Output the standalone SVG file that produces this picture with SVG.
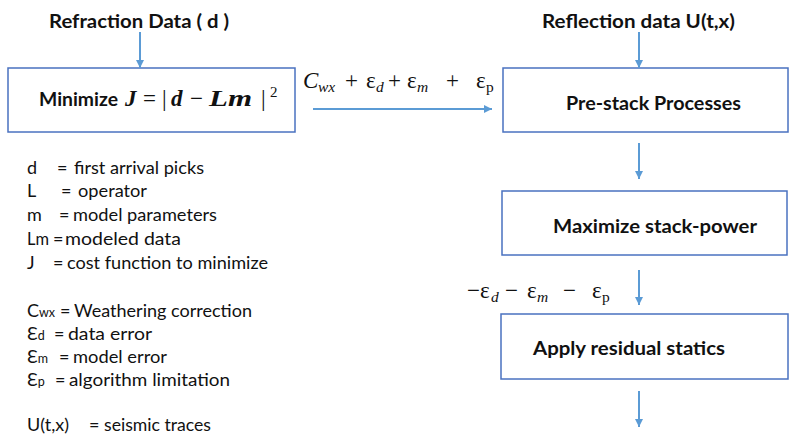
<svg xmlns="http://www.w3.org/2000/svg" width="793" height="438" viewBox="0 0 793 438">
<defs>
<marker id="ah" viewBox="0 0 10 10" refX="10" refY="5" markerWidth="4.5" markerHeight="4" markerUnits="strokeWidth" orient="auto"><path d="M0,0 L10,5 L0,10 z" fill="#5b9bd5"/></marker>
</defs>
<style>
.box{fill:#fff;stroke:#4a72c0;stroke-width:1.5}
.conn{stroke:#5b9bd5;stroke-width:2;fill:none;marker-end:url(#ah)}
.hd{font-family:Lato,"Liberation Sans",Arial,sans-serif;font-weight:bold;font-size:19.5px;fill:#111}
.lg{font-family:Lato,"Liberation Sans",Arial,sans-serif;font-size:18px;fill:#111}
.sm{font-size:12.5px}
.mt{font-family:"Liberation Serif","Times New Roman",serif;font-size:23px;fill:#111}
.it{font-style:italic}
.bi{font-style:italic;font-weight:bold}
.sub{font-size:15.5px}
</style>
<rect width="793" height="438" fill="#fff"/>

<g id="refraction-data">
<text class="hd" x="49" y="28" textLength="180" lengthAdjust="spacingAndGlyphs">Refraction Data ( d )</text>
</g>
<g id="reflection-data">
<text class="hd" x="542" y="28" textLength="193" lengthAdjust="spacingAndGlyphs">Reflection data U(t,x)</text>
</g>

<g id="minimize">
<rect class="box" x="8" y="68" width="287" height="64"/>
<text class="hd" x="39" y="106" textLength="79" lengthAdjust="spacingAndGlyphs">Minimize</text>
<text class="mt" y="106"><tspan class="bi" x="125">J</tspan><tspan x="143">=</tspan><tspan x="162">|</tspan><tspan class="bi" x="171">d</tspan><tspan x="190">−</tspan></text>
<text class="mt bi" x="209" y="106" textLength="43" lengthAdjust="spacingAndGlyphs">Lm</text>
<text class="mt" y="106"><tspan x="261">|</tspan><tspan x="270" font-size="15" dy="-9">2</tspan></text>
</g>

<g id="prestack">
<rect class="box" x="503" y="68" width="285" height="64"/>
<text class="hd" x="566" y="110" textLength="175" lengthAdjust="spacingAndGlyphs">Pre-stack Processes</text>
</g>

<g id="maximize">
<rect class="box" x="502" y="191" width="285" height="64"/>
<text class="hd" x="553" y="233" textLength="204" lengthAdjust="spacingAndGlyphs">Maximize stack-power</text>
</g>

<g id="apply">
<rect class="box" x="501" y="314" width="287" height="65"/>
<text class="hd" x="533" y="355" textLength="192" lengthAdjust="spacingAndGlyphs">Apply residual statics</text>
</g>

<g id="connectors">
<path class="conn" d="M140,32 V68"/>
<path class="conn" d="M639,32 V68"/>
<path class="conn" d="M313,109 H492"/>
<path class="conn" d="M639,143 V179"/>
<path class="conn" d="M639,270 V305"/>
<path class="conn" d="M639,391 V427"/>
</g>

<g id="label-errors-plus">
<text class="mt" y="88"><tspan class="it" x="303">C</tspan><tspan class="it sub" x="318" dy="4">wx</tspan><tspan x="345" dy="-4">+</tspan><tspan x="366">ε</tspan><tspan class="it sub" x="376" dy="4">d</tspan><tspan x="388" dy="-4">+</tspan><tspan x="407">ε</tspan><tspan class="it sub" x="417" dy="4">m</tspan><tspan x="446" dy="-4">+</tspan><tspan x="476">ε</tspan><tspan class="sub" x="486" dy="4">p</tspan></text>
</g>

<g id="label-errors-minus">
<text class="mt" y="298"><tspan x="467">−ε</tspan><tspan class="it sub" x="491" dy="4">d</tspan><tspan x="505" dy="-4">−</tspan><tspan x="527">ε</tspan><tspan class="it sub" x="537" dy="4">m</tspan><tspan x="563" dy="-4">−</tspan><tspan x="592">ε</tspan><tspan class="sub" x="602" dy="4">p</tspan></text>
</g>

<g id="legend">
<text class="lg" x="27" y="174">d</text><text class="lg" x="57" y="174">=</text><text class="lg" x="74" y="174" textLength="130" lengthAdjust="spacingAndGlyphs">first arrival picks</text>
<text class="lg" x="27" y="197">L</text><text class="lg" x="61" y="197">=</text><text class="lg" x="78" y="197" textLength="69" lengthAdjust="spacingAndGlyphs">operator</text>
<text class="lg" x="27" y="221">m</text><text class="lg" x="59" y="221">=</text><text class="lg" x="73" y="221" textLength="144" lengthAdjust="spacingAndGlyphs">model parameters</text>
<text class="lg" x="27" y="245" textLength="22" lengthAdjust="spacingAndGlyphs">Lm</text><text class="lg" x="53" y="245">=</text><text class="lg" x="65" y="245" textLength="116" lengthAdjust="spacingAndGlyphs">modeled data</text>
<text class="lg" x="27" y="269">J</text><text class="lg" x="53" y="269">=</text><text class="lg" x="67" y="269" textLength="201" lengthAdjust="spacingAndGlyphs">cost function to minimize</text>
<text class="lg" x="27" y="317">C<tspan class="sm">wx</tspan></text><text class="lg" x="60" y="317">=</text><text class="lg" x="74" y="317" textLength="178" lengthAdjust="spacingAndGlyphs">Weathering correction</text>
<text class="lg" x="27" y="340">Ɛ<tspan class="sm">d</tspan></text><text class="lg" x="54" y="340">=</text><text class="lg" x="68" y="340" textLength="84" lengthAdjust="spacingAndGlyphs">data error</text>
<text class="lg" x="27" y="363">Ɛ<tspan class="sm">m</tspan></text><text class="lg" x="59" y="363">=</text><text class="lg" x="73" y="363" textLength="94" lengthAdjust="spacingAndGlyphs">model error</text>
<text class="lg" x="27" y="386">Ɛ<tspan class="sm">p</tspan></text><text class="lg" x="55" y="386">=</text><text class="lg" x="69" y="386" textLength="161" lengthAdjust="spacingAndGlyphs">algorithm limitation</text>
<text class="lg" x="27" y="431">U(t,x)</text><text class="lg" x="89" y="431">=</text><text class="lg" x="104" y="431" textLength="107" lengthAdjust="spacingAndGlyphs">seismic traces</text>
</g>
</svg>
